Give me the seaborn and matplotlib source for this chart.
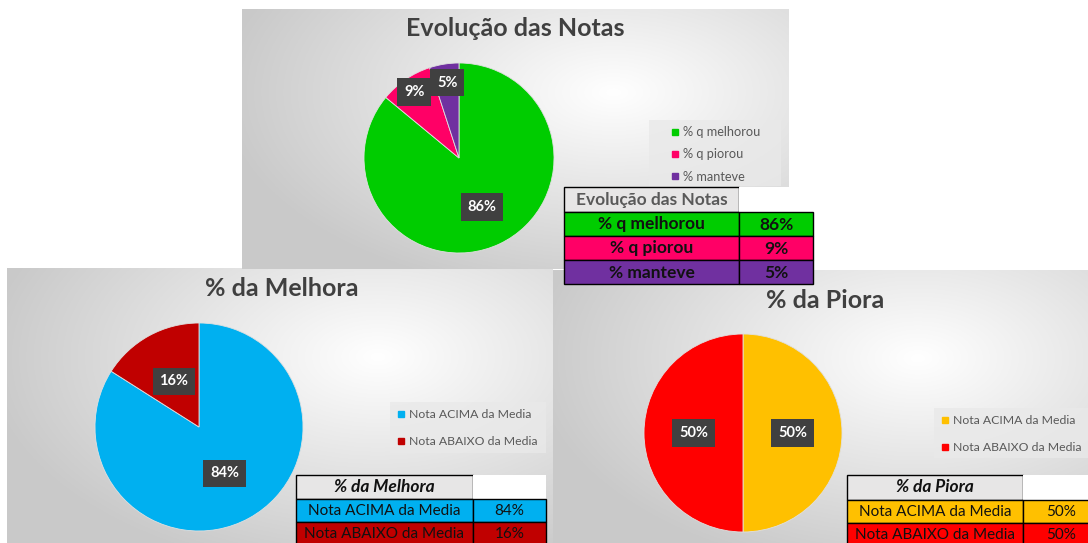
import numpy as np
import matplotlib
matplotlib.use('Agg')
import matplotlib.pyplot as plt
import seaborn as sns
from matplotlib.patches import Rectangle
from matplotlib.lines import Line2D

sns.set_theme(style='white')
plt.rcParams['font.family'] = ['Lato', 'DejaVu Sans']

# dados
evol_title = 'Evolução das Notas'
evol_labels = ['% q melhorou', '% q piorou', '% manteve']
evol_values = [86, 9, 5]
evol_colors = ['#00CC00', '#FF0066', '#7030A0']

melhora_title = '% da Melhora'
melhora_labels = ['Nota ACIMA da Media', 'Nota ABAIXO da Media']
melhora_values = [84, 16]
melhora_colors = ['#00B0F0', '#C00000']

piora_title = '% da Piora'
piora_labels = ['Nota ACIMA da Media', 'Nota ABAIXO da Media']
piora_values = [50, 50]
piora_colors = ['#FFC000', '#FF0000']

W, H = 1088, 543
fig = plt.figure(figsize=(W / 100, H / 100), dpi=100)
fig.patch.set_facecolor('white')


def rect(x0, y0, x1, y1):
    return [x0 / W, 1 - y1 / H, (x1 - x0) / W, (y1 - y0) / H]


def fundo(box, cx=0.68, cy=0.32):
    ax = fig.add_axes(rect(*box))
    yy, xx = np.mgrid[0:1:200j, 0:1:400j]
    d = np.sqrt((xx - cx) ** 2 + ((yy - cy) * 0.9) ** 2)
    g = 1 - 0.21 * np.clip(d / 0.72, 0, 1)
    img = np.dstack([g, g, g])
    ax.imshow(img, extent=(0, 1, 0, 1), aspect='auto')
    ax.set_axis_off()
    return ax


def pizza(box, values, colors, dists):
    ax = fig.add_axes(rect(*box))
    wedges, _ = ax.pie(values, colors=colors, startangle=90, counterclock=False,
                       wedgeprops=dict(linewidth=0.6, edgecolor='#e0e0e0'))
    for w, v, dd in zip(wedges, values, dists):
        ang = np.deg2rad((w.theta1 + w.theta2) / 2)
        ax.text(dd * np.cos(ang), dd * np.sin(ang), f'{v}%', ha='center', va='center',
                color='white', fontsize=10.5, fontweight='bold',
                bbox=dict(boxstyle='square,pad=0.45', fc='#404040', ec='none'))
    ax.set_xlim(-1, 1)
    ax.set_ylim(-1, 1)
    ax.set_axis_off()
    return wedges


# paineis
fundo((7, 268, 553, 545))
fundo((553, 270, 1090, 545))
fundo((242, 9, 789, 269))

pizza((364, 63, 554, 253), evol_values, evol_colors, [0.57, 0.84, 0.80])
pizza((95, 323, 303, 531), melhora_values, melhora_colors, [0.51, 0.5])
pizza((644, 334, 842, 532), piora_values, piora_colors, [0.5, 0.5])

# tabelas, titulos e fundo das legendas
ov = fig.add_axes([0, 0, 1, 1])
ov.set_xlim(0, W)
ov.set_ylim(H, 0)
ov.set_axis_off()


def legenda(labels, colors, box, x, y, spacing, size):
    ov.add_patch(Rectangle((box[0], box[1]), box[2] - box[0], box[3] - box[1],
                           fc='#e9e9e9', ec='none', alpha=0.8))
    handles = [Line2D([], [], marker='s', ls='none', markersize=5, color=c) for c in colors]
    fig.legend(handles, labels, loc='upper left', bbox_to_anchor=(x / W, 1 - y / H),
               frameon=False, fontsize=size, labelcolor='#595959', handlelength=0.6,
               handletextpad=0.35, labelspacing=spacing, borderpad=0, borderaxespad=0)


legenda(evol_labels, evol_colors, (649, 120, 781, 186), 671, 126, 0.82, 9.2)
legenda(melhora_labels, melhora_colors, (390, 402, 546, 453), 397, 409, 1.3, 8.8)
legenda(piora_labels, piora_colors, (934, 408, 1090, 458), 941, 415, 1.3, 8.8)

ov.text(515, 28, evol_title, ha='center', va='center', fontsize=18, fontweight='bold', color='#404040')
ov.text(282, 289, melhora_title, ha='center', va='center', fontsize=18, fontweight='bold', color='#404040')
ov.text(825, 300, piora_title, ha='center', va='center', fontsize=18, fontweight='bold', color='#404040')


def tabela(x0, xs, x1, rows, header, labels, values, colors, hstyle, bold, size):
    ov.add_patch(Rectangle((x0, rows[0]), xs - x0, rows[1] - rows[0], fc='#E7E6E6', ec='black', lw=1))
    ov.add_patch(Rectangle((xs, rows[0]), x1 - xs, rows[1] - rows[0], fc='white', ec='none'))
    ov.text((x0 + xs) / 2, (rows[0] + rows[1]) / 2, header, ha='center', va='center',
            fontsize=hstyle['size'], fontweight='bold', style=hstyle['style'], color=hstyle['color'])
    for i, (lab, v, c) in enumerate(zip(labels, values, colors)):
        ya, yb = rows[i + 1], rows[i + 2]
        ov.add_patch(Rectangle((x0, ya), xs - x0, yb - ya, fc=c, ec='black', lw=1))
        ov.add_patch(Rectangle((xs, ya), x1 - xs, yb - ya, fc=c, ec='black', lw=1))
        ov.text((x0 + xs) / 2, (ya + yb) / 2 + 0.5, lab, ha='center', va='center', fontsize=size,
                fontweight='bold' if bold else 'normal', color='#111111')
        ov.text((xs + x1) / 2, (ya + yb) / 2 + 0.5, f'{v}%', ha='center', va='center', fontsize=size,
                fontweight='bold' if bold else 'normal', color='#111111')


tabela(564, 739, 813, [187, 212, 236, 260, 284], evol_title, evol_labels, evol_values, evol_colors,
       dict(style='normal', color='#595959', size=12.5), True, 12.5)
tabela(296, 473, 546, [475, 499, 522, 546], melhora_title, melhora_labels, melhora_values, melhora_colors,
       dict(style='italic', color='#111111', size=12.5), False, 11)
tabela(847, 1023, 1100, [475, 500, 523, 546], piora_title, piora_labels, piora_values, piora_colors,
       dict(style='italic', color='#111111', size=12.5), False, 11)

fig.savefig('out.png', dpi=100)
